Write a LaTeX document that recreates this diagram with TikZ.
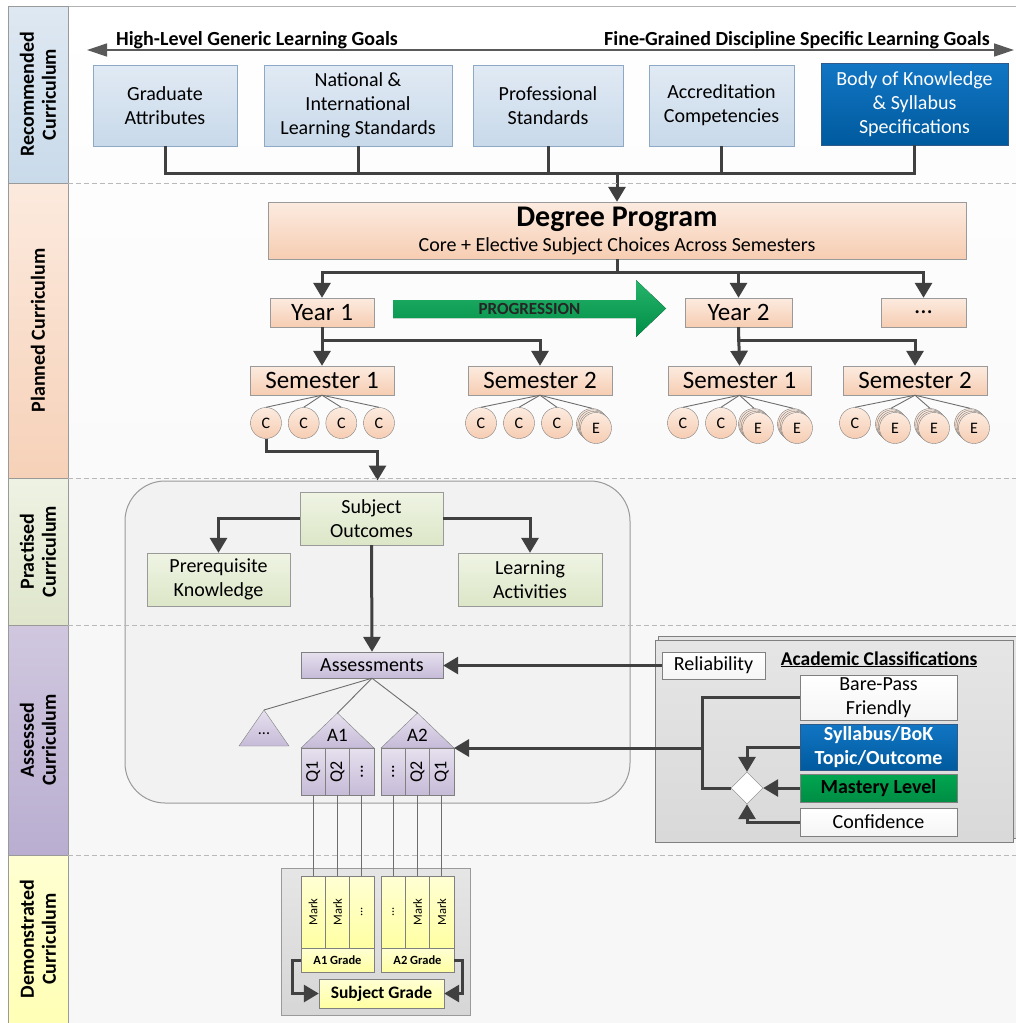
\documentclass[tikz,border=0pt]{standalone}
\usepackage{fontspec}
\setmainfont{Carlito}
\usetikzlibrary{arrows.meta,positioning,shapes.geometric}

\definecolor{linegray}{HTML}{404040}
\definecolor{thingray}{HTML}{6E6E6E}
\definecolor{boxline}{HTML}{9A9A9A}
\definecolor{rectop}{HTML}{E1EAF4}
\definecolor{recbot}{HTML}{C8D9EA}
\definecolor{recline}{HTML}{8EA9C6}
\definecolor{boktop}{HTML}{1276C4}
\definecolor{bokbot}{HTML}{005A9E}
\definecolor{bokline}{HTML}{2E5B8A}
\definecolor{plantop}{HTML}{FCEBE0}
\definecolor{planbot}{HTML}{F6CDB2}
\definecolor{practop}{HTML}{EFF4E4}
\definecolor{pracbot}{HTML}{DCE6C7}
\definecolor{asstop}{HTML}{E6E0EE}
\definecolor{assbot}{HTML}{C6BBD8}
\definecolor{demtop}{HTML}{FFFFD4}
\definecolor{dembot}{HTML}{FFFFA3}
\definecolor{mastery}{HTML}{00A650}
\definecolor{progress}{HTML}{00A651}
\definecolor{recA}{HTML}{DEE8F2}
\definecolor{recB}{HTML}{C9DAEA}
\definecolor{planA}{HTML}{FCEADE}
\definecolor{planB}{HTML}{F6D1B8}
\definecolor{pracA}{HTML}{EEF2E3}
\definecolor{pracB}{HTML}{DFE6CC}
\definecolor{assA}{HTML}{D0C7DF}
\definecolor{assB}{HTML}{B9AED0}
\definecolor{demA}{HTML}{FFFFD2}
\definecolor{demB}{HTML}{FFFFB6}

\newcommand{\fnt}[2]{\fontsize{#1}{#2}\selectfont}
% stack of elective circles: back circle gets the name
\newcommand{\elective}[3]{%
  \node[subj] (#1) at (#2-4,#3-4) {};
  \node[subj] (#1y) at (#2-2.7,#3-2.7) {};
  \node[subj] (#1z) at (#2-1.3,#3-1.3) {};
  \node[subj] (#1e) at (#2,#3) {E};}

\begin{document}
\begin{tikzpicture}[x=1pt,y=-1pt,
  conn/.style={draw=linegray, line width=3pt},
  arr/.style={conn, -{Triangle[length=15pt,width=17pt]}},
  twig/.style={draw=thingray, line width=0.9pt},
  sep/.style={draw=gray!55, dash pattern=on 5pt off 3pt, line width=0.9pt},
  band/.style={draw=boxline, rotate=90, align=center, minimum height=60pt, inner sep=0pt, font=\fnt{20}{22}\bfseries},
  recbox/.style={draw=recline, top color=rectop, bottom color=recbot, align=center, inner sep=1pt, minimum height=81pt, font=\fnt{20}{24}},
  planbox/.style={draw=boxline, top color=plantop, bottom color=planbot, align=center, inner sep=1pt, minimum height=29pt, font=\fnt{25}{30}},
  subj/.style={circle, draw=gray, top color=plantop, bottom color=planbot, minimum size=31pt, inner sep=0pt, font=\fnt{16}{18}},
  pracbox/.style={draw=boxline, top color=practop, bottom color=pracbot, align=center, minimum width=143pt, minimum height=53pt, inner sep=1pt, font=\fnt{20}{24}},
  assbox/.style={draw=gray, top color=asstop, bottom color=assbot, align=center, inner sep=0pt, font=\fnt{20}{24}},
  qcol/.style={assbox, minimum width=24.3pt, minimum height=47pt, font=\fnt{18}{20}},
  markcol/.style={draw=gray, top color=demtop, bottom color=dembot, minimum width=24.3pt, minimum height=72pt, inner sep=0pt, font=\fnt{12.5}{14}},
  gradebox/.style={draw=gray, top color=demtop, bottom color=dembot, inner sep=0pt, font=\fnt{12.5}{14}\bfseries},
  classbox/.style={draw=gray, top color=white, bottom color=gray!8, align=center, minimum width=157pt, inner sep=0pt, font=\fnt{20}{24}}]

\useasboundingbox (0,0) rectangle (1016,1023);
\fill[white] (0,0) rectangle (1016,1023);
\fill[top color=white, bottom color=gray!4] (68,6) rectangle (1016,478);
\fill[gray!6] (68,478) rectangle (1016,1023);
\draw[gray!60, line width=1pt] (68,6) -- (1016,6);

% curriculum bands
\node[band, top color=recA, bottom color=recB, minimum width=177pt] (bandrec) at (38,94.5) {Recommended\\Curriculum};
\node[band, top color=planA, bottom color=planB, minimum width=295pt] (bandplan) at (38,330.5) {Planned Curriculum};
\node[band, top color=pracA, bottom color=pracB, minimum width=147pt] (bandprac) at (38,551.5) {Practised\\Curriculum};
\node[band, top color=assA, bottom color=assB, minimum width=230pt] (bandass) at (38,740) {Assessed\\Curriculum};
\node[band, top color=demA, bottom color=demB, minimum width=168pt] (banddem) at (38,939) {Demonstrated\\Curriculum};

% recommended
\coordinate (goalL) at (87,50);
\coordinate (goalR) at (1014,50);
\draw[draw=gray!70!black, line width=1.3pt, {Triangle[length=20pt,width=13pt]}-{Triangle[length=20pt,width=13pt]}] (goalL) -- (goalR);
\node[anchor=base west, inner sep=0pt, font=\fnt{20}{24}\bfseries] (hilev) at (116,45) {High-Level Generic Learning Goals};
\node[anchor=base east, inner sep=0pt, font=\fnt{20}{24}\bfseries] (finegr) at (990,45) {Fine-Grained Discipline Specific Learning Goals};

\node[recbox, minimum width=144pt] (grad) at (165,105.5) {Graduate\\Attributes};
\node[recbox, minimum width=188pt] (natl) at (358,105.5) {National \&\\International\\Learning Standards};
\node[recbox, minimum width=150pt] (prof) at (548,105.5) {Professional\\Standards};
\node[recbox, minimum width=145pt] (accr) at (721.5,105.5) {Accreditation\\Competencies};
\node[recbox, draw=bokline, top color=boktop, bottom color=bokbot, text=white, minimum width=187pt, minimum height=82pt] (bok) at (914.5,104) {Body of Knowledge\\\& Syllabus\\Specifications};

% planned
\node[planbox, minimum width=698pt, minimum height=57pt, font=\fnt{20}{25}] (deg) at (617,230.5) {{\fnt{30}{30}\bfseries Degree Program}\\Core + Elective Subject Choices Across Semesters};
\node[planbox, minimum width=104pt] (yr1) at (322,312.5) {Year 1};
\node[planbox, minimum width=107pt] (yr2) at (738.5,312.5) {Year 2};
\node[planbox, minimum width=85pt] (yrn) at (923.5,312.5) {...};
\fill[top color=progress!85!white, bottom color=progress!85!black] (393,300) -- (636,300) -- (636,280) -- (666,308.5) -- (636,337) -- (636,318) -- (393,318) -- cycle;
\node[font=\fnt{17}{18}\bfseries, text=black!85, inner sep=0pt] (prog) at (529.5,309) {PROGRESSION};

\node[planbox, minimum width=144pt] (s11) at (322,380.5) {Semester 1};
\node[planbox, minimum width=144pt] (s12) at (540,380.5) {Semester 2};
\node[planbox, minimum width=143pt] (s21) at (739.5,380.5) {Semester 1};
\node[planbox, minimum width=144pt] (s22) at (915,380.5) {Semester 2};

\coordinate (recbus) at (617,173);
\draw[conn] (grad.south) |- (recbus -| bok.south) -- (bok.south);
\foreach \n in {natl,prof,accr} \draw[conn] (\n.south) -- (\n.south |- recbus);
\draw[arr] (recbus) -- (deg.north);

\foreach \d in {yr1,yr2,yrn} \draw[arr] (deg.south) |- (\d.north |- 0,272) -- (\d.north);
\draw[arr] (yr1.south) -- (s11.north);
\draw[arr] (yr1.south) |- (s12.north |- 0,340) -- (s12.north);
\draw[arr] (yr2.south) -- (s21.north);
\draw[arr] (yr2.south) |- (s22.north |- 0,340) -- (s22.north);

% subjects
\foreach \x [count=\i] in {266,303.7,341.3,379} {
  \node[subj] (ca\i) at (\x,423) {C};
  \draw[twig] (s11.south) -- (ca\i.north);}
\foreach \x [count=\i] in {481,519,557} {
  \node[subj] (cb\i) at (\x,423) {C};
  \draw[twig] (s12.south) -- (cb\i.north);}
\elective{eb1}{596}{428}
\draw[twig] (s12.south) -- (eb1.north);
\foreach \x [count=\i] in {683,721} {
  \node[subj] (cc\i) at (\x,423) {C};
  \draw[twig] (s21.south) -- (cc\i.north);}
\elective{ec1}{758}{428}
\elective{ec2}{797}{428}
\foreach \n in {ec1,ec2} \draw[twig] (s21.south) -- (\n.north);
\node[subj] (cd1) at (855,423) {C};
\elective{ed1}{895}{428}
\elective{ed2}{934}{428}
\elective{ed3}{974}{428}
\foreach \n in {cd1,ed1,ed2,ed3} \draw[twig] (s22.south) -- (\n.north);

% practised
\node[draw=boxline, fill=gray!10, rounded corners=40pt, minimum width=505pt, minimum height=322pt, line width=1pt] (prac) at (377.5,642) {};
\draw[arr] (ca1.south) |- (prac.north |- 0,451) -- (prac.north);

\foreach \y in {183,478,625,855} \draw[sep] (68,\y) -- (1016,\y);

\node[pracbox] (so) at (371.5,518.5) {Subject\\Outcomes};
\node[pracbox] (pk) at (218.5,579.5) {Prerequisite\\Knowledge};
\node[pracbox, minimum width=144pt] (la) at (530,579.5) {Learning\\Activities};
\node[assbox, minimum width=142pt, minimum height=26pt] (ass) at (372,665) {Assessments};
\draw[arr] (so.west) -| (pk.north);
\draw[arr] (so.east) -| (la.north);
\draw[arr] (so.south) -- (ass.north);

% assessed
\coordinate (dtop) at (264,710);
\coordinate (a1top) at (337.5,713);
\coordinate (a2top) at (417.5,713);
\coordinate (a2r) at (454,748);
\path[draw=gray, top color=asstop, bottom color=assbot] (239,746) -- (dtop) -- (289,746) -- cycle;
\path[draw=gray, top color=asstop, bottom color=assbot] (301,748) -- (a1top) -- (374,748) -- cycle;
\path[draw=gray, top color=asstop, bottom color=assbot] (381,748) -- (a2top) -- (a2r) -- cycle;
\node[font=\fnt{16}{18}] (dlab) at (264,734) {...};
\node[font=\fnt{19}{22}] (a1lab) at (337.5,735) {A1};
\node[font=\fnt{19}{22}] (a2lab) at (417.5,735) {A2};
\foreach \n in {dtop,a1top,a2top} \draw[twig] (ass.south) -- (\n);

\node[qcol] (qa1) at (313.2,771.5) {\rotatebox{90}{Q1}};
\node[qcol] (qa2) at (337.5,771.5) {\rotatebox{90}{Q2}};
\node[qcol] (qa3) at (361.8,771.5) {\rotatebox{90}{...}};
\node[qcol] (qb1) at (393.2,771.5) {\rotatebox{90}{...}};
\node[qcol] (qb2) at (417.5,771.5) {\rotatebox{90}{Q2}};
\node[qcol] (qb3) at (441.8,771.5) {\rotatebox{90}{Q1}};

\node[draw=gray, top color=gray!20, bottom color=gray!30, minimum width=358pt, minimum height=202pt] (acadback) at (837,737) {};
\node[draw=gray, top color=gray!20, bottom color=gray!30, minimum width=358pt, minimum height=202pt] (acad) at (834,741) {};
\node[classbox, minimum width=103pt, minimum height=27pt] (rel) at (713.5,665.5) {Reliability};
\node[anchor=base, inner sep=0pt, font=\fnt{19.5}{22}\bfseries] (actitle) at (879,665) {\underline{Academic Classifications}};
\node[classbox, minimum height=45pt] (bpf) at (878.5,697.5) {Bare-Pass\\Friendly};
\node[classbox, draw=bokline, top color=boktop, bottom color=bokbot, text=white, minimum height=46pt, font=\fnt{20}{24}\bfseries] (syl) at (878.5,747) {Syllabus/BoK\\Topic/Outcome};
\node[classbox, top color=mastery, bottom color=mastery!85!black, minimum height=28pt, font=\fnt{20}{24}\bfseries] (mast) at (878.5,788) {Mastery Level};
\node[classbox, minimum height=28pt] (conf) at (878.5,822) {Confidence};
\node[diamond, draw=gray, fill=white, minimum width=32pt, minimum height=32pt, inner sep=0pt] (dec) at (747,788) {};

\coordinate (acjoin) at (702,748);
\draw[conn] (bpf.west) -| (acjoin);
\draw[arr] (dec.west) -| (acjoin) -- (a2r);
\draw[arr] (syl.west) -| (dec.north);
\draw[arr] (mast.west) -- (dec.east);
\draw[arr] (conf.west) -| (dec.south);
\draw[arr] (rel.west) -- (rel.west -| ass.east);

% demonstrated
\node[draw=boxline, top color=gray!20, bottom color=gray!32, minimum width=189pt, minimum height=147pt] (demo) at (375.5,941.5) {};
\node[markcol] (ma1) at (313.2,912) {\rotatebox{90}{Mark}};
\node[markcol] (ma2) at (337.5,912) {\rotatebox{90}{Mark}};
\node[markcol] (ma3) at (361.8,912) {\rotatebox{90}{...}};
\node[markcol] (mb1) at (393.2,912) {\rotatebox{90}{...}};
\node[markcol] (mb2) at (417.5,912) {\rotatebox{90}{Mark}};
\node[markcol] (mb3) at (441.8,912) {\rotatebox{90}{Mark}};
\foreach \c in {a1,a2,a3,b1,b2,b3} \draw[twig] (q\c.south) -- (m\c.north);

\node[gradebox, minimum width=73pt, minimum height=24pt] (ga) at (337.5,960) {A1 Grade};
\node[gradebox, minimum width=73pt, minimum height=24pt] (gb) at (417.5,960) {A2 Grade};
\node[gradebox, minimum width=125pt, minimum height=29pt, font=\fnt{17.5}{20}\bfseries] (sg) at (381.5,993.5) {Subject Grade};
\draw[arr] (ga.west) -- ++(-8,0) |- (sg.west);
\draw[arr] (gb.east) -- ++(8,0) |- (sg.east);
\end{tikzpicture}
\end{document}
